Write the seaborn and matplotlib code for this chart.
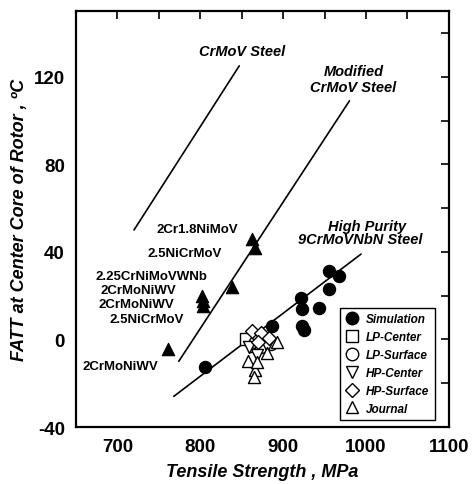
import matplotlib
matplotlib.use("Agg")
import matplotlib.pyplot as plt
from matplotlib.ticker import MultipleLocator
from matplotlib.lines import Line2D
import seaborn as sns
import pandas as pd

sns.set_style("white")
plt.rcParams["font.family"] = ["Liberation Sans", "DejaVu Sans"]
plt.rcParams["axes.unicode_minus"] = False
for key in ["text.color", "axes.labelcolor", "xtick.color", "ytick.color"]:
    plt.rcParams[key] = "black"

# Trend lines (tensile strength MPa, FATT degC) for each steel grade
crmov_x = [720, 847]
crmov_y = [50, 125]
mod_crmov_x = [774, 980]
mod_crmov_y = [-10, 109]
high_purity_x = [768, 994]
high_purity_y = [-26, 39]

# Other rotor steels (filled triangles)
other_x = [863, 866, 838, 802, 803, 803, 761]
other_y = [46, 42, 24, 20, 17.5, 15.5, -4.5]

# Simulation results
sim_x = [806, 886, 922, 923, 923, 925, 943, 955, 968, 955]
sim_y = [-12.5, 6, 19, 14, 6, 4.5, 14.5, 31.5, 29, 23]

# Measured values
lp_center_x = [855, 866]
lp_center_y = [0, -3]
lp_surface_x = [866, 873, 885, 870]
lp_surface_y = [-1, -3.5, -2, 1.5]
hp_center_x = [859, 868, 880]
hp_center_y = [-3.5, -7, -3]
hp_surface_x = [863, 873, 883, 870]
hp_surface_y = [4, 3, 0.5, -1]
journal_x = [857, 866, 865, 880, 893, 869]
journal_y = [-10, -14, -17, -6, -1, -10.5]

series = [
    ("Simulation", sim_x, sim_y, "o", True),
    ("LP-Center", lp_center_x, lp_center_y, "s", False),
    ("LP-Surface", lp_surface_x, lp_surface_y, "o", False),
    ("HP-Center", hp_center_x, hp_center_y, "v", False),
    ("HP-Surface", hp_surface_x, hp_surface_y, "D", False),
    ("Journal", journal_x, journal_y, "^", False),
]

fig = plt.figure(figsize=(4.75, 4.85), dpi=100)
ax = fig.add_axes([0.16, 0.1175, 0.785, 0.8575])

for lx, ly in [(crmov_x, crmov_y), (mod_crmov_x, mod_crmov_y), (high_purity_x, high_purity_y)]:
    sns.lineplot(x=lx, y=ly, ax=ax, color="black", linewidth=1.2, legend=False)

sns.scatterplot(x=other_x, y=other_y, ax=ax, marker="^", s=80, color="black",
                edgecolor="black", linewidth=0.8, legend=False, zorder=4)

handles = []
for name, xs, ys, mk, filled in series:
    size = 75 if mk != "D" else 50
    df = pd.DataFrame({"x": xs, "y": ys})
    sns.scatterplot(data=df, x="x", y="y", ax=ax, marker=mk, s=size,
                    facecolor="black" if filled else "white",
                    edgecolor="black", linewidth=1.0, legend=False, zorder=5)
    handles.append(Line2D([], [], linestyle="none", marker=mk,
                          markersize=9 if mk != "D" else 7.5,
                          markerfacecolor="black" if filled else "white",
                          markeredgecolor="black", markeredgewidth=1.0,
                          label=name))

leg = ax.legend(handles=handles, loc="lower right", bbox_to_anchor=(0.962, 0.017),
                borderaxespad=0, frameon=True, fancybox=False, handletextpad=0.6,
                labelspacing=0.5, borderpad=0.45, handlelength=1.2,
                prop={"weight": "bold", "style": "italic", "size": 8.5})
leg.get_frame().set_edgecolor("black")
leg.get_frame().set_linewidth(1.0)
leg.get_frame().set_alpha(1)

# Grade labels
bi = dict(fontweight="bold", fontstyle="italic", fontsize=10.5, ha="center", va="center")
ax.text(850, 132, "CrMoV Steel", **bi)
ax.text(985, 122.5, "Modified", **bi)
ax.text(985, 115.5, "CrMoV Steel", **bi)
ax.text(1001, 52, "High Purity", **bi)
ax.text(993, 46, "9CrMoVNbN Steel", **bi)

bd = dict(fontweight="bold", fontsize=9.5, ha="center", va="center")
ax.text(797, 50.5, "2Cr1.8NiMoV", **bd)
ax.text(781, 39.5, "2.5NiCrMoV", **bd)
ax.text(741, 29, "2.25CrNiMoVWNb", **bd)
ax.text(725, 22.5, "2CrMoNiWV", **bd)
ax.text(723, 16, "2CrMoNiWV", **bd)
ax.text(735, 9.5, "2.5NiCrMoV", **bd)
ax.text(703, -12, "2CrMoNiWV", **bd)

ax.set_xlim(650, 1100)
ax.set_ylim(-40, 150)
ax.xaxis.set_major_locator(MultipleLocator(100))
ax.xaxis.set_minor_locator(MultipleLocator(50))
ax.yaxis.set_major_locator(MultipleLocator(40))
ax.yaxis.set_minor_locator(MultipleLocator(20))
ax.tick_params(which="both", direction="in", top=True, right=True, length=6,
               width=1.2, colors="black")
ax.tick_params(which="major", labelsize=13.5, pad=8)
for lab in ax.get_xticklabels() + ax.get_yticklabels():
    lab.set_fontweight("bold")

for sp in ax.spines.values():
    sp.set_linewidth(1.6)
    sp.set_color("black")

ax.set_xlabel("Tensile Strength , MPa", fontsize=13, fontweight="bold",
              fontstyle="italic", labelpad=6)
ax.set_ylabel("FATT at Center Core of Rotor , \u00baC", fontsize=13,
              fontweight="bold", fontstyle="italic", labelpad=4)

fig.savefig("out.png", dpi=100)
